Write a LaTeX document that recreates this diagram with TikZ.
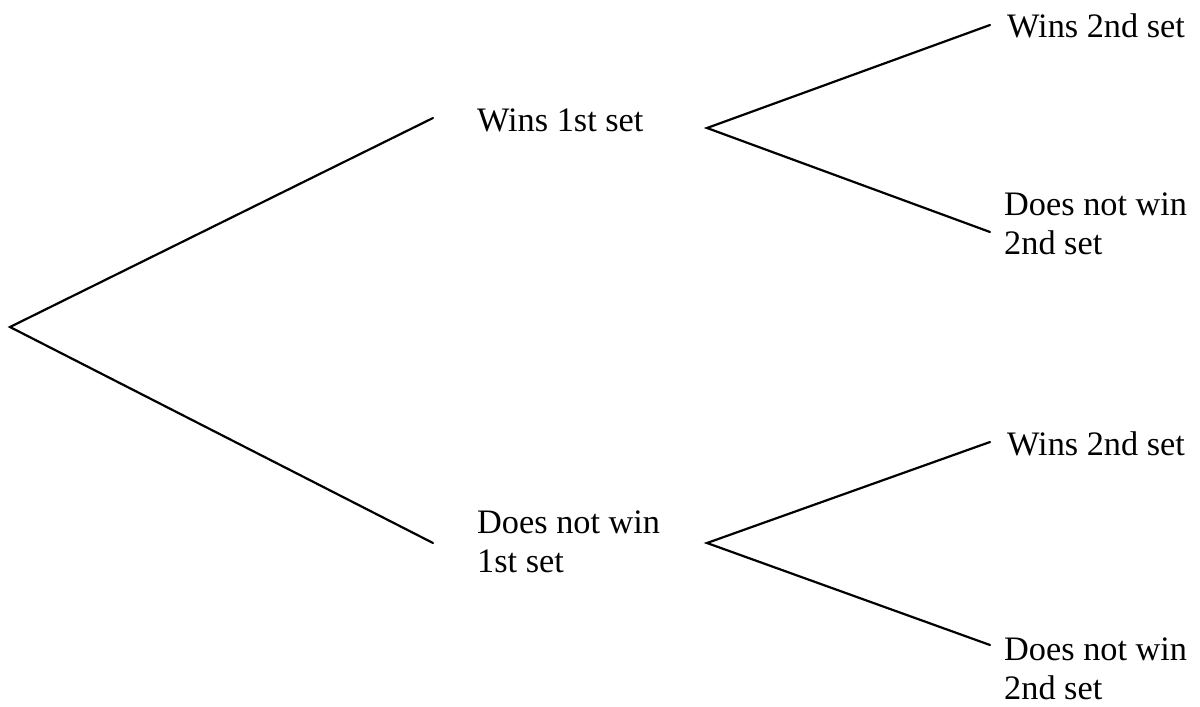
\documentclass[tikz,border=0pt]{standalone}
\usepackage{fontspec}
\setmainfont{Liberation Serif}
\begin{document}
\begin{tikzpicture}[x=1pt,y=-1pt,
  branch/.style={line width=2.2pt, line cap=round, line join=miter},
  lbl/.style={anchor=base west, inner sep=0pt, align=left,
    font=\fontsize{34.3}{39}\selectfont}]
\useasboundingbox (0,0) rectangle (1200,707);
\coordinate (root) at (10,327);
\coordinate (a1) at (433,118);
\coordinate (a2) at (433,543);
\coordinate (b1) at (707,128);
\coordinate (b2) at (707,543);
\coordinate (c1) at (990,25);
\coordinate (c2) at (990,232);
\coordinate (c3) at (990,442);
\coordinate (c4) at (990,645);
\draw[branch] (a1) -- (root) -- (a2);
\draw[branch] (c1) -- (b1) -- (c2);
\draw[branch] (c3) -- (b2) -- (c4);
\node[lbl] (w1) at (477,131) {Wins 1st set};
\node[lbl] (n1) at (477,572) {Does not win\\1st set};
\node[lbl] (w2a) at (1007,37) {Wins 2nd set};
\node[lbl] (n2a) at (1004,254) {Does not win\\2nd set};
\node[lbl] (w2b) at (1007,455) {Wins 2nd set};
\node[lbl] (n2b) at (1004,699) {Does not win\\2nd set};
\end{tikzpicture}
\end{document}
